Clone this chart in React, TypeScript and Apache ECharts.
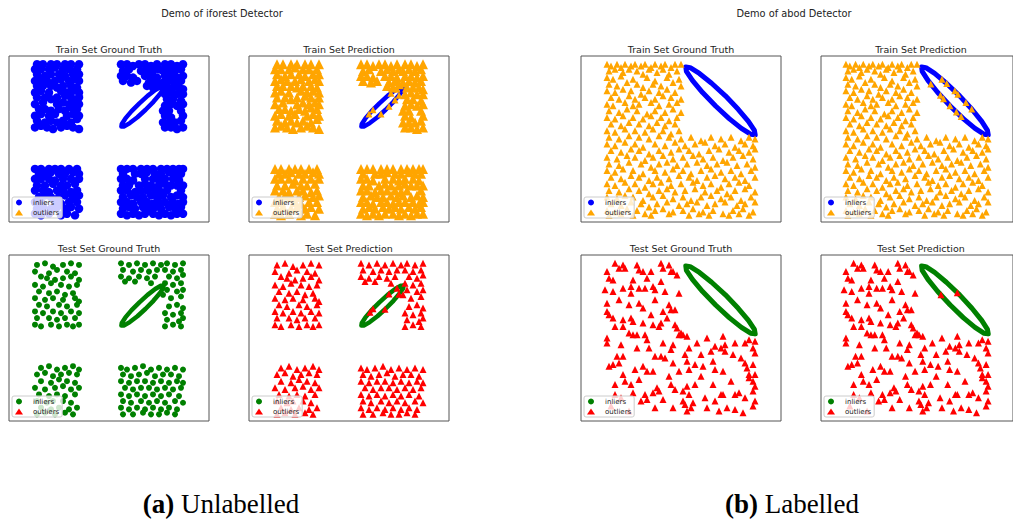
import React, { useEffect, useRef } from "react";
import * as echarts from "echarts";

// ---------- DATA (axes are 0..100 in x and y for every panel) ----------
const figureTitles = ["Demo of iforest Detector", "Demo of abod Detector"];
const panelTitles = ["Train Set Ground Truth", "Train Set Prediction", "Test Set Ground Truth", "Test Set Prediction"];
const captionTags = ["(a)", "(b)"];
const captionTexts = ["Unlabelled", "Labelled"];
const legendLabels = ["inliers", "outliers"];

// iforest demo: training points (four square clusters)
const leftTrain: number[][] = [
  // top-left cluster
  [13,57],[16,58],[19,57],[22,56],[26,57],[29,58],[32,57],[35,56],
  [14,61],[18,60],[21,61],[24,60],[27,61],[31,60],[34,62],
  [13,64],[16,65],[20,64],[23,65],[29,64],[32,65],[35,64],
  [15,68],[18,68],[21,67],[25,68],[28,67],[31,69],[34,68],
  [13,71],[17,72],[24,71],[27,72],[30,71],[33,72],[35,71],
  [14,75],[18,75],[21,74],[24,75],[28,76],[31,75],[35,75],
  [13,78],[16,79],[20,78],[26,79],[29,78],[32,79],[35,78],
  [14,82],[17,82],[21,82],[24,81],[27,82],[31,82],[34,81],
  [13,85],[16,86],[19,85],[23,85],[26,86],[30,85],[33,86],[35,85],
  [14,89],[18,88],[21,89],[25,89],[28,88],[32,89],[35,89],
  [13,92],[16,92],[20,92],[23,93],[27,92],[30,92],[34,92],
  [14,95],[17,95],[21,95],[24,95],[28,95],[31,95],[35,95],
  // top-right cluster (top band + right column)
  [56,95],[59,95],[62,94],[65,95],[68,95],[71,94],[74,95],
  [57,91],[60,92],[66,91],[69,92],[72,91],[75,92],
  [56,88],[59,88],[62,87],[68,88],[71,88],[74,87],
  [57,85],[61,84],[64,85],[70,84],[73,85],
  [69,82],[72,81],[75,83],
  [78,95],[81,95],[84,94],[87,95],
  [77,91],[80,92],[83,91],[86,92],
  [78,88],[81,88],[84,87],[87,88],
  [77,84],[80,85],[83,84],[86,85],
  [79,81],[82,81],[85,81],[87,80],
  [78,77],[81,78],[84,77],[87,77],
  [79,74],[82,74],[86,73],
  [78,70],[81,71],[84,70],[87,71],
  [77,67],[80,67],[86,67],
  [78,64],[81,63],[87,64],
  [77,60],[80,60],[83,60],[86,61],
  [78,57],[81,57],[84,56],[87,57],
  // bottom-left cluster
  [13,5],[16,4],[20,5],[26,4],[29,5],[33,4],
  [14,8],[17,9],[21,8],[24,9],[28,8],[31,9],[35,8],
  [13,12],[16,12],[23,12],[26,11],[30,12],[34,12],
  [15,15],[18,16],[21,15],[25,15],[28,16],[32,15],[35,16],
  [13,19],[17,19],[20,18],[24,19],[27,19],[31,18],[34,19],
  [14,22],[18,22],[22,23],[26,22],[29,22],[33,23],
  [13,26],[16,26],[20,26],[23,25],[27,26],[31,26],[35,26],
  [15,29],[18,29],[21,30],[25,29],[28,29],[32,30],[35,29],
  [13,32],[16,32],[20,32],[23,32],[26,32],[30,32],[34,32],
  // bottom-right cluster
  [56,5],[59,4],[62,5],[65,4],[68,5],[72,5],[75,4],[78,5],[81,4],[84,5],[87,5],
  [57,8],[60,9],[63,8],[67,9],[70,8],[73,9],[76,8],[80,9],[83,8],[86,9],
  [56,12],[59,12],[62,11],[66,12],[69,12],[72,11],[75,12],[78,12],[82,12],[85,11],[87,12],
  [57,15],[61,16],[64,15],[67,15],[71,16],[74,15],[77,16],[81,15],[84,16],[87,15],
  [56,19],[59,19],[63,18],[66,19],[69,19],[73,19],[76,18],[79,19],[86,19],
  [57,22],[60,22],[65,22],[68,23],[71,22],[75,22],[78,23],[81,22],[84,22],[87,22],
  [56,26],[59,26],[62,25],[68,26],[72,26],[75,25],[78,26],[82,26],[85,25],
  [57,29],[63,29],[66,29],[69,30],[73,29],[76,29],[80,30],[83,29],[86,29],
  [56,32],[59,32],[62,32],[66,32],[69,32],[72,32],[76,32],[79,32],[82,32],[85,32],[87,32],
];

// iforest demo: test points
const leftTest: number[][] = [
  [14,94],[18,95],[22,93],[27,94],[31,95],[35,94],
  [13,90],[20,89],[24,91],[29,90],[33,89],
  [16,87],[19,86],[23,85],[27,86],[31,87],[35,85],
  [13,82],[17,81],[21,83],[26,82],[30,81],[34,82],
  [15,78],[20,77],[24,78],[28,76],[32,77],
  [13,74],[18,73],[22,74],[27,73],[33,74],[35,72],
  [15,70],[19,69],[25,70],[29,69],[34,70],
  [13,66],[17,65],[22,66],[26,65],[31,66],[35,65],
  [14,62],[20,62],[24,61],[28,62],[33,62],
  [13,58],[16,57],[21,58],[25,57],[29,58],[32,57],[35,58],
  [56,95],[60,94],[64,95],[68,94],[72,95],[76,94],
  [57,91],[62,90],[66,91],[70,90],[74,91],
  [56,87],[60,86],[65,87],[69,86],[73,87],
  [58,84],[63,84],[71,83],
  [79,95],[83,94],[87,95],
  [78,91],[82,90],[86,91],
  [80,87],[84,86],[87,88],
  [78,83],[82,82],[86,83],
  [79,79],[84,78],[87,79],
  [77,76],[81,74],[86,75],
  [80,69],[84,70],[87,68],
  [78,65],[82,64],[86,65],
  [79,61],[85,60],[87,62],
  [78,57],[82,58],[86,57],
  [16,32],[20,33],[24,31],[28,32],[32,33],[35,31],
  [14,28],[18,29],[22,27],[26,28],[30,29],[34,28],
  [16,24],[21,23],[25,25],[29,24],[33,23],
  [13,20],[18,19],[23,20],[27,21],[31,19],[35,20],
  [15,16],[20,15],[24,16],[28,15],[33,16],
  [14,12],[19,11],[22,12],[27,12],[31,11],
  [16,8],[21,7],[25,8],[30,7],[34,8],
  [14,4],[18,5],[23,4],[28,5],[32,4],
  [56,32],[59,31],[63,32],[67,33],[71,31],[75,32],[79,31],[83,32],[87,31],
  [57,28],[61,27],[65,28],[69,29],[73,27],[77,28],[81,28],[85,27],
  [56,24],[60,23],[64,24],[68,24],[72,23],[76,24],[80,23],[84,24],[87,23],
  [58,20],[62,19],[66,20],[70,20],[74,19],[78,20],[82,19],[86,20],
  [56,16],[60,15],[64,16],[68,15],[72,16],[76,15],[80,16],[85,15],
  [57,12],[61,11],[66,12],[70,11],[74,12],[78,11],[83,12],[87,11],
  [56,8],[60,7],[64,8],[68,7],[72,8],[76,7],[80,8],[84,7],
  [57,4],[62,4],[67,5],[71,4],[75,4],[79,5],[83,4],
];

// iforest demo: the thin elliptical cluster of inliers
const leftRing: number[][] = [
  [77.3,81.7],[77.1,80.0],[75.3,76.8],[72.2,72.4],[68.3,67.6],[64.2,63.1],[60.4,59.6],[57.6,57.6],
  [56.2,57.5],[56.4,59.1],[58.2,62.4],[61.3,66.8],[65.2,71.5],[69.3,76.0],[73.1,79.5],[75.9,81.5],[77.3,81.7],
];
const leftTrainPredOut: number[][] = [[71,77.6],[74,80.1],[75,76.3],[70,69.7],[62,67.6],[60,65],[66,65.1],[73,73.5]];
const leftTestPredOut: number[][] = [[74,80],[70,76.5],[75,76.3],[62,67.6],[68,67.3],[60.5,65.5]];

// abod demo: training points
const rightTrain: number[][] = [
  [13,95],[15,94],[18,95],[20,93],[22,95],[25,94],[27,95],[30,94],[32,95],[35,93],[37,95],[40,94],[42,95],[45,93],[47,95],[50,95],
  [14,91],[17,92],[21,90],[24,92],[28,91],[31,89],[34,92],[38,90],[41,92],[44,89],[48,91],
  [13,87],[16,86],[20,88],[26,86],[33,87],[37,85],[43,87],[49,86],
  [14,83],[18,82],[23,84],[28,83],[31,81],[36,83],[40,82],[46,84],[50,82],
  [13,79],[17,78],[21,80],[25,79],[30,77],[34,79],[39,78],[43,80],[47,78],
  [15,75],[19,74],[24,76],[27,74],[32,75],[37,74],[41,76],[45,75],[50,74],
  [13,71],[16,70],[22,72],[26,70],[29,71],[35,72],[39,70],[44,71],[48,72],
  [14,67],[19,66],[23,68],[28,67],[33,65],[37,67],[42,66],[46,68],[50,66],
  [13,63],[17,62],[21,64],[26,63],[31,62],[35,64],[40,63],[44,61],[48,63],
  [15,59],[20,58],[24,60],[29,59],[34,58],[38,60],[42,58],[47,59],
  [13,55],[17,54],[22,56],[27,55],[32,54],[36,56],[41,55],[45,53],[49,55],
  [14,51],[19,50],[24,52],[29,51],[34,50],[39,52],[44,51],[50,50],[55,51],[60,49],[65,51],[70,50],[75,51],[80,49],[84,51],[87,50],
  [13,47],[17,46],[22,48],[27,47],[31,45],[37,47],[42,46],[47,48],[52,46],[57,47],[62,48],[67,46],[72,47],[77,45],[82,47],[86,46],
  [15,43],[20,42],[25,44],[29,43],[34,41],[39,43],[45,42],[49,44],[54,43],[59,41],[64,43],[69,44],[74,42],[79,43],[84,42],[87,44],
  [13,39],[18,38],[23,40],[27,39],[32,37],[36,39],[41,40],[46,38],[51,39],[56,40],[61,38],[66,39],[71,37],[76,39],[81,40],[86,38],
  [14,35],[19,34],[24,36],[30,35],[35,33],[39,35],[43,36],[48,34],[53,35],[58,36],[63,34],[68,35],[73,36],[78,34],[83,35],[87,33],
  [13,31],[17,30],[21,32],[26,31],[31,29],[37,31],[42,30],[46,32],[51,31],[55,29],[60,31],[65,32],[70,30],[75,31],[80,29],[85,31],
  [15,27],[20,26],[25,28],[29,27],[34,25],[38,27],[44,26],[49,28],[54,27],[58,25],[63,27],[67,28],[72,26],[77,27],[82,25],[87,27],
  [13,23],[17,22],[22,24],[27,23],[32,21],[36,23],[40,24],[45,22],[50,23],[56,24],[61,22],[65,23],[70,21],[74,23],[79,24],[84,22],
  [14,19],[19,18],[24,20],[29,19],[34,17],[39,19],[43,20],[47,18],[52,19],[57,20],[62,18],[68,19],[73,17],[77,19],[82,20],[87,18],
  [13,15],[18,14],[22,16],[26,15],[31,13],[36,15],[41,16],[46,14],[51,15],[55,13],[60,15],[65,16],[70,14],[75,15],[80,13],[85,15],
  [15,11],[20,10],[25,12],[30,11],[34,9],[38,11],[43,12],[49,10],[53,11],[58,12],[63,10],[67,11],[72,12],[78,10],[82,11],[87,12],
  [13,7],[17,6],[23,8],[28,7],[32,5],[37,7],[41,8],[46,6],[51,7],[56,8],[61,6],[66,7],[71,5],[76,7],[81,8],[86,6],
  [14,4],[20,5],[26,4],[35,4],[44,5],[54,4],[59,5],[64,4],[74,4],[79,5],[84,4],
];

// abod demo: test points
const rightTest: number[][] = [
  [13,90],[17,95],[19,92],[21,94],[22,92],[28,94],[29,91],[31,90],[35,90],[40,95],[41,92],[44,94],[45,90],[46,90],[48,88],
  [16,85],[12,79],[16,78],[21,80],[25,81],[25,77],[29,80],[32,80],[36,81],[37,79],[40,84],[42,78],[49,77],
  [29,71],[31,68],[44,70],[45,67],[47,67],[13,66],[14,64],[16,62],
  [21,61],[25,62],[26,60],[17,57],[21,57],[31,59],[36,58],[39,57],[40,59],[47,58],[48,56],
  [24,53],[26,52],[28,52],[32,52],[33,49],[13,50],[13,47],[50,53],[53,51],[49,52],[51,52],
  [71,51],[67,45],[70,44],[72,46],[77,47],[82,47],[84,49],[87,48],[86,44],[87,41],[65,42],[72,42],[76,40],
  [46,46],[45,43],[54,44],[52,40],[60,40],[34,44],[37,39],[42,38],[18,39],[21,39],
  [14,33],[16,34],[19,35],[27,31],[31,33],[33,30],[36,30],[40,39],[46,35],[49,30],[53,36],[54,31],[57,34],[61,33],[66,36],[67,31],[71,30],[82,35],[83,32],[86,34],[84,28],[87,28],
  [21,28],[22,24],[17,22],[25,22],[26,17],[32,16],[36,17],[38,20],[39,18],[45,22],[47,19],[51,18],[53,21],[54,16],[57,22],[62,14],[70,16],[71,16],[77,16],[79,17],[82,14],[86,24],[87,21],[86,18],[84,26],
  [17,16],[20,14],[30,12],[33,13],[41,13],[46,8],[51,12],[52,10],[53,6],[55,8],[69,6],[73,8],[77,7],[81,5],[86,9],[87,12],[56,11],
  [14,86],[26,85],[33,86],[19,73],[24,70],[37,73],[41,66],[13,71],[35,64],[43,62],[20,46],[28,44],[41,47],[58,47],[63,50],
  [80,38],[75,24],[66,22],[60,27],[44,27],[29,25],[15,9],[24,6],[37,8],[63,8],[67,12],
];

// abod demo: elliptical inlier cluster
const rightRing: number[][] = [
  [87.1,52.5],[84.8,52.9],[80.2,56.4],[74.1,62.3],[67.3,69.9],[60.8,78.0],[55.7,85.3],[52.7,90.7],
  [52.4,93.4],[54.6,93.0],[59.2,89.5],[65.3,83.6],[72.2,76.0],[78.6,67.9],[83.7,60.6],[86.7,55.2],[87.1,52.5],
];
const rightTrainPredOut: number[][] = [
  [63,86],[65.5,83.5],[69.7,79],[71.3,77],[75.5,72],[78.5,68],[57.2,83.2],[62.2,76.3],[63.8,74.3],[67.2,70],[70.5,66.3],[73,63.5],
];
const rightTestPredOut: number[][] = [[62.5,76],[71,77.3]];

// ---------- STYLE / LAYOUT ----------
const BLUE = "#0000ff";
const ORANGE = "#ffa500";
const GREEN = "#008000";
const RED = "#ff0000";
const FONT = "DejaVu Sans";
const SERIF = "Liberation Serif";
const PW = 200;
const PH = 166;
const gridPos = [
  [9, 56], [249, 56], [9, 255], [249, 255],
  [581, 56], [821, 56], [581, 255], [821, 255],
];

const empty: number[][] = [];
const panels = [
  { inl: leftTrain, ring: leftRing, out: empty, ringOut: empty, ic: BLUE, oc: ORANGE, is: 8.5, os: 10, rw: 4.5 },
  { inl: empty, ring: leftRing, out: leftTrain, ringOut: leftTrainPredOut, ic: BLUE, oc: ORANGE, is: 8.5, os: 10, rw: 4.5 },
  { inl: leftTest, ring: leftRing, out: empty, ringOut: empty, ic: GREEN, oc: RED, is: 6, os: 7, rw: 4.5 },
  { inl: empty, ring: leftRing, out: leftTest, ringOut: leftTestPredOut, ic: GREEN, oc: RED, is: 6, os: 7, rw: 4.5 },
  { inl: empty, ring: rightRing, out: rightTrain, ringOut: empty, ic: BLUE, oc: ORANGE, is: 6, os: 7, rw: 5 },
  { inl: empty, ring: rightRing, out: rightTrain, ringOut: rightTrainPredOut, ic: BLUE, oc: ORANGE, is: 6, os: 7, rw: 5 },
  { inl: empty, ring: rightRing, out: rightTest, ringOut: empty, ic: GREEN, oc: RED, is: 6, os: 7, rw: 5 },
  { inl: empty, ring: rightRing, out: rightTest, ringOut: rightTestPredOut, ic: GREEN, oc: RED, is: 6, os: 7, rw: 5 },
];

function buildOption() {
  const grid: any[] = [];
  const xAxis: any[] = [];
  const yAxis: any[] = [];
  const series: any[] = [];
  const legend: any[] = [];
  const graphic: any[] = [];

  panels.forEach((p, i) => {
    const [gl, gt] = gridPos[i];
    grid.push({ left: gl, top: gt, width: PW, height: PH, show: true, borderColor: "#555", borderWidth: 1 });
    xAxis.push({ gridIndex: i, type: "value", min: 0, max: 100, show: false });
    yAxis.push({ gridIndex: i, type: "value", min: 0, max: 100, show: false });
    series.push({
      type: "line", name: `ring#${i}`, xAxisIndex: i, yAxisIndex: i, data: p.ring,
      symbol: "none", silent: true, z: 1,
      lineStyle: { color: p.ic, width: p.rw, join: "round", cap: "round" },
    });
    series.push({
      type: "scatter", name: `${legendLabels[0]}#${i}`, xAxisIndex: i, yAxisIndex: i, data: p.inl,
      symbol: "circle", symbolSize: p.is, silent: true, z: 2, itemStyle: { color: p.ic, opacity: 1 },
    });
    series.push({
      type: "scatter", name: `${legendLabels[1]}#${i}`, xAxisIndex: i, yAxisIndex: i, data: p.out,
      symbol: "triangle", symbolSize: p.os, silent: true, z: 3, itemStyle: { color: p.oc, opacity: 1 },
    });
    series.push({
      type: "scatter", name: `ringout#${i}`, xAxisIndex: i, yAxisIndex: i, data: p.ringOut,
      symbol: "triangle", symbolSize: 7, silent: true, z: 5, itemStyle: { color: p.oc, opacity: 1 },
    });
    legend.push({
      show: true, orient: "vertical", left: gl + 3, top: gt + 141,
      data: [`${legendLabels[0]}#${i}`, `${legendLabels[1]}#${i}`],
      selectedMode: false, itemWidth: 8, itemHeight: 6, itemGap: 3,
      padding: [2, 3, 2, 3],
      backgroundColor: "rgba(255,255,255,0.8)", borderColor: "#cccccc", borderWidth: 1, borderRadius: 2,
      textStyle: { fontSize: 7, color: "#222", fontFamily: FONT, padding: [0, 0, 0, 5] },
      formatter: (n: string) => n.split("#")[0],
      z: 10,
    });
    graphic.push({
      type: "text", x: gl + PW / 2, y: gt - 7,
      style: {
        text: panelTitles[i % 4], fontSize: 9.5, fontFamily: FONT, fill: "#222",
        align: "center", verticalAlign: "middle", textAlign: "center", textVerticalAlign: "middle",
      },
    });
  });

  const titleX = [222, 794];
  const captionX = [221, 792];
  [0, 1].forEach((k) => {
    graphic.push({
      type: "text", x: titleX[k], y: 13,
      style: {
        text: figureTitles[k], fontSize: 9.8, fontFamily: FONT, fill: "#222",
        align: "center", verticalAlign: "middle", textAlign: "center", textVerticalAlign: "middle",
      },
    });
    graphic.push({
      type: "text", x: captionX[k], y: 504,
      style: {
        text: `{b|${captionTags[k]}} ${captionTexts[k]}`,
        rich: { b: { fontWeight: "bold", fontFamily: SERIF, fontSize: 27, fill: "#000" } },
        fontSize: 27, fontFamily: SERIF, fill: "#000",
        align: "center", verticalAlign: "middle", textAlign: "center", textVerticalAlign: "middle",
      },
    });
  });

  return {
    animation: false,
    backgroundColor: "#ffffff",
    grid, xAxis, yAxis, series, legend, graphic,
  };
}

export default function App() {
  const ref = useRef<HTMLDivElement>(null);
  useEffect(() => {
    if (!ref.current) return;
    const chart = echarts.init(ref.current, undefined, { renderer: "svg" });
    chart.setOption(buildOption() as any);
    return () => chart.dispose();
  }, []);
  return (
    <div
      ref={ref}
      style={{ position: "fixed", left: 0, top: 0, width: 1013, height: 520, background: "#fff" }}
    />
  );
}
